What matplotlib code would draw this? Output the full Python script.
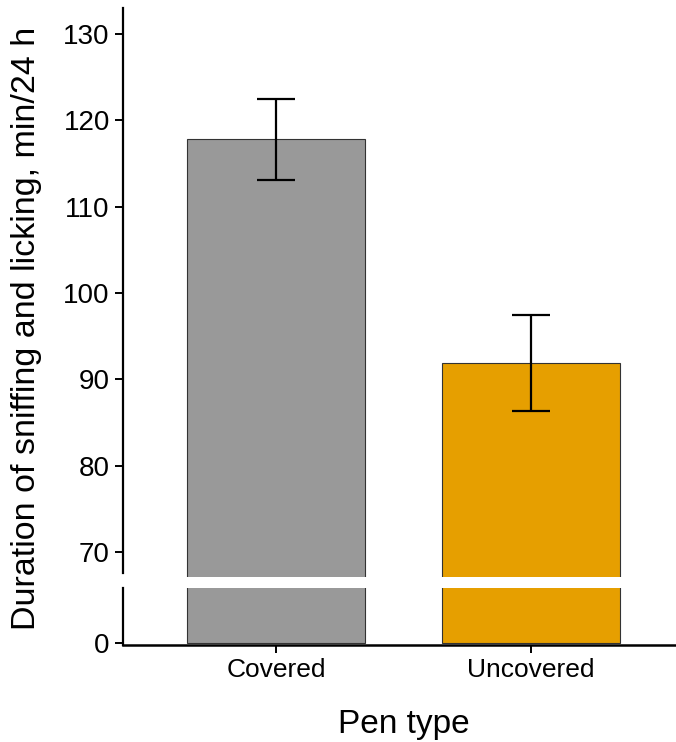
import numpy as np
import matplotlib.pyplot as plt

plt.rcParams['font.family'] = ['Liberation Sans', 'DejaVu Sans']

categories = ["Covered", "Uncovered"]
means = [117.8, 91.9]
err_low = [113.1, 86.3]
err_high = [122.5, 97.4]
colors = ["#999999", "#E69F00"]
top_ticks = [70, 80, 90, 100, 110, 120, 130]

W, H = 676, 742
fig = plt.figure(figsize=(W / 100, H / 100), dpi=100)

def px_axes(x0, x1, ytop, ybot):
    return fig.add_axes([x0 / W, 1 - ybot / H, (x1 - x0) / W, (ybot - ytop) / H])

ax_top = px_axes(123, 676, 8, 577)
ax_bot = px_axes(123, 676, 588, 645)

x = np.arange(len(categories))
yerr = np.array([np.subtract(means, err_low), np.subtract(err_high, means)])

for ax in (ax_top, ax_bot):
    ax.bar(x, means, width=0.7, color=colors, edgecolor="#333333", linewidth=0.8)
    ax.set_xlim(-0.6, 1.569)
    for s in ("top", "right"):
        ax.spines[s].set_visible(False)
    ax.spines["left"].set_linewidth(1.6)
    ax.tick_params(axis="both", width=1.4, length=6, labelsize=20, color="black")

ax_top.errorbar(x, means, yerr=yerr, fmt="none", ecolor="black",
                elinewidth=1.6, capsize=14, capthick=1.6)
ax_top.set_ylim(67.1, 133.0)
ax_top.set_yticks(top_ticks)
ax_top.spines["bottom"].set_visible(False)
ax_top.tick_params(axis="x", bottom=False, labelbottom=False)
ax_top.spines["left"].set_bounds(67.6, 133.0)

ax_bot.set_ylim(-0.23, 6.2)
ax_bot.set_yticks([0])
ax_bot.spines["bottom"].set_linewidth(1.8)
ax_bot.set_xticks(x)
ax_bot.set_xticklabels(categories, fontsize=19)

fig.text(404 / W, 1 - 724 / H, "Pen type", fontsize=24, ha="center", va="center")
fig.text(27 / W, 1 - 328 / H, "Duration of sniffing and licking, min/24 h",
         rotation=90, fontsize=24.5, ha="center", va="center")

fig.savefig("out.png", dpi=100)
